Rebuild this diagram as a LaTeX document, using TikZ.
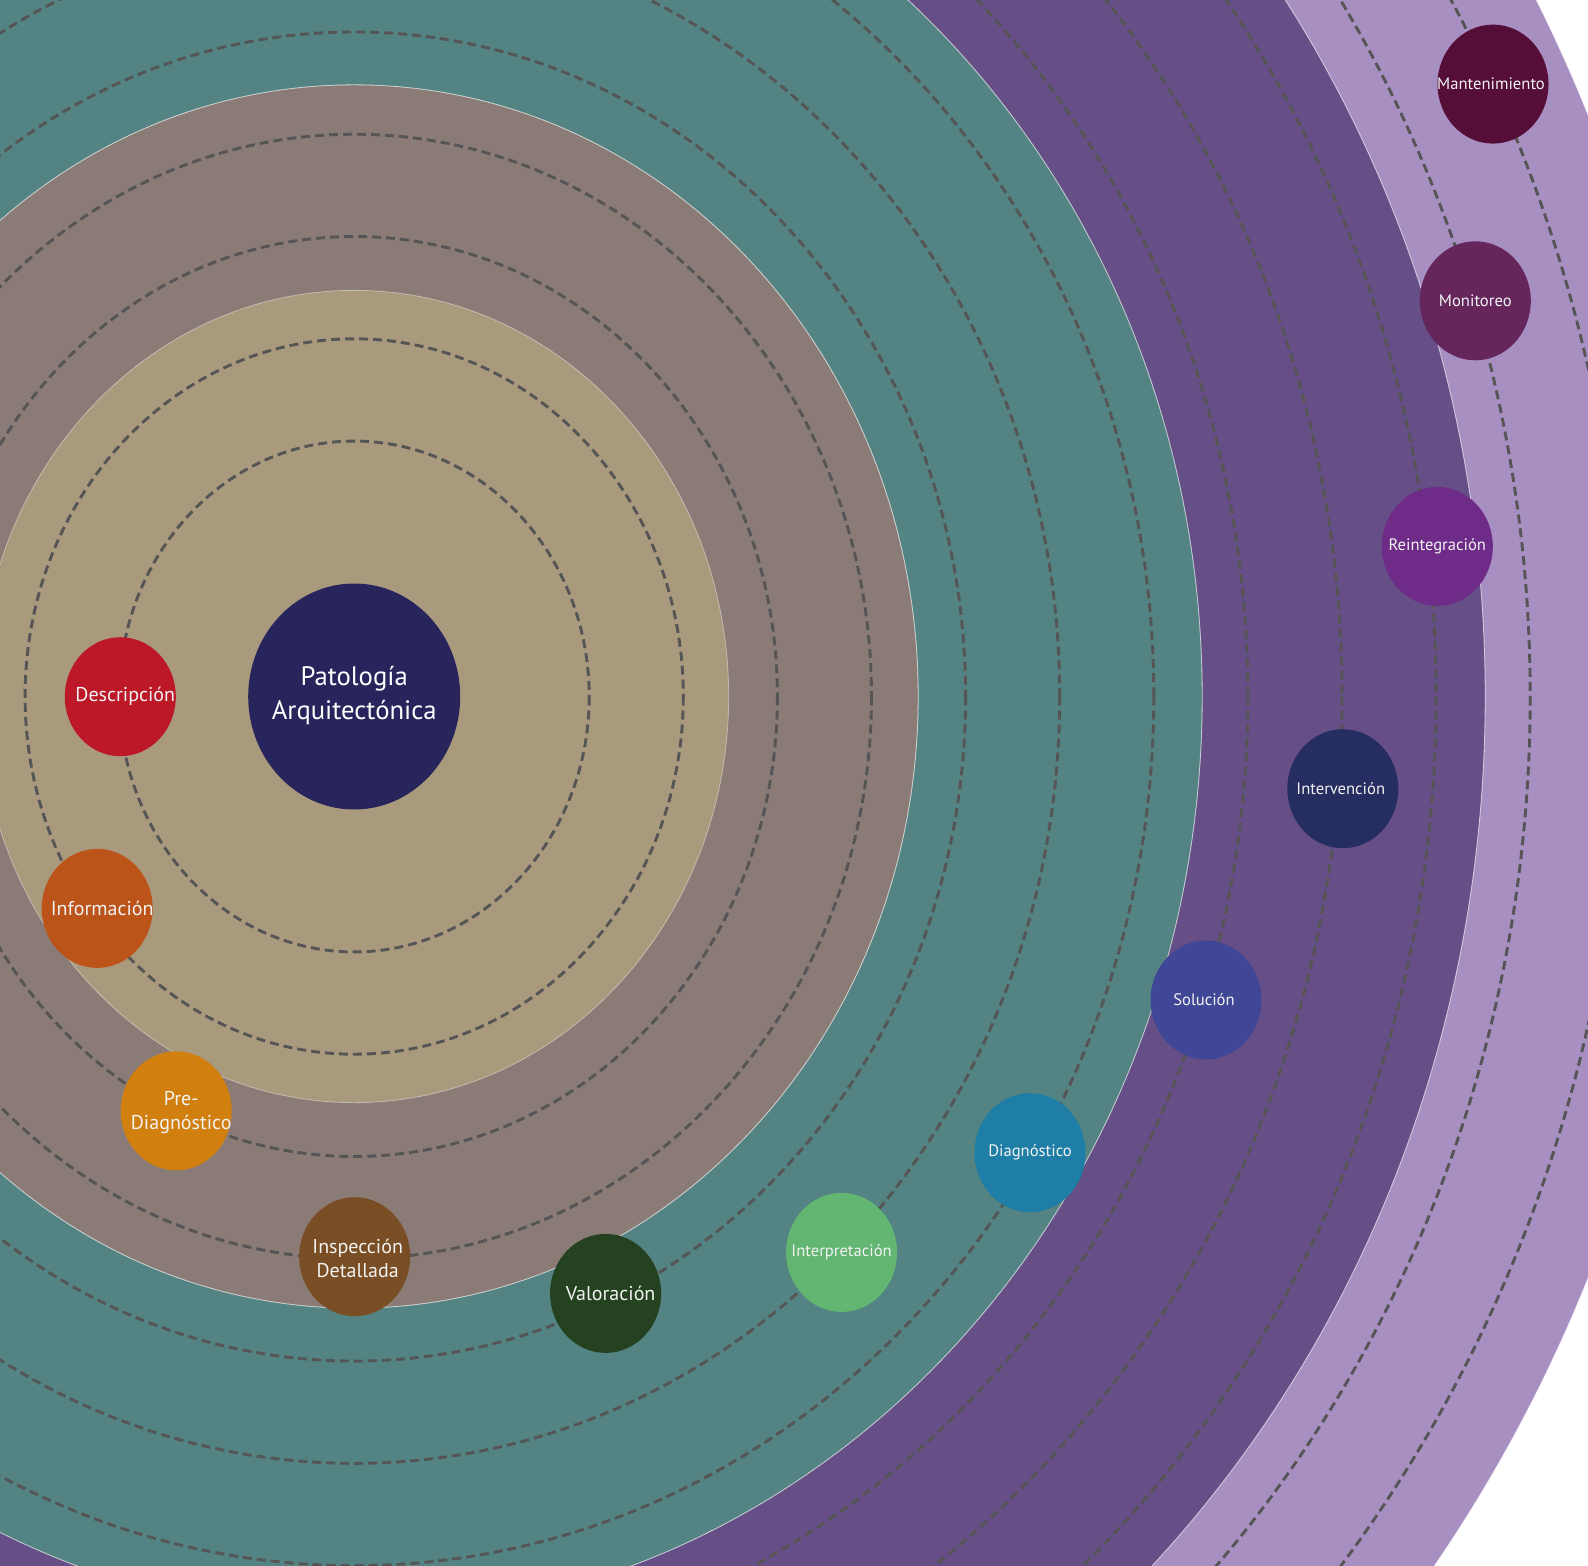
\documentclass[tikz,border=0pt]{standalone}
\usepackage{fontspec}
\setmainfont{PT Sans}
\usetikzlibrary{shapes.geometric}

% band colours
\definecolor{bandLilac}{HTML}{A88FC2}
\definecolor{bandPurple}{HTML}{664E86}
\definecolor{bandTeal}{HTML}{538382}
\definecolor{bandTaupe}{HTML}{8A7B76}
\definecolor{bandSand}{HTML}{AA9A7D}
\definecolor{ringGray}{HTML}{555555}
\definecolor{labelWhite}{HTML}{F2F2F2}
% stage colours
\definecolor{cCore}{HTML}{28245C}
\definecolor{cDesc}{HTML}{BC1828}
\definecolor{cInfo}{HTML}{BC541A}
\definecolor{cPre}{HTML}{D18010}
\definecolor{cInsp}{HTML}{7A4E24}
\definecolor{cVal}{HTML}{244220}
\definecolor{cInterp}{HTML}{62B672}
\definecolor{cDiag}{HTML}{1E7EA6}
\definecolor{cSol}{HTML}{404796}
\definecolor{cInterv}{HTML}{262D60}
\definecolor{cReint}{HTML}{6E2C88}
\definecolor{cMonit}{HTML}{65265C}
\definecolor{cMant}{HTML}{540E38}

\begin{document}
\begin{tikzpicture}[x=1pt,y=-1pt,
  band/.style={fill=#1, draw=white, draw opacity=0.4, line width=0.8pt},
  orbit/.style={draw=ringGray, line width=2.9pt, dash pattern=on 9pt off 5pt},
  stage/.style={ellipse, fill=#1, minimum width=111pt, minimum height=119pt, inner sep=0pt},
  core/.style={ellipse, fill=cCore, minimum width=212pt, minimum height=226pt, inner sep=0pt},
  corelbl/.style={text=white, font=\fontsize{26.7}{34}\selectfont, align=center, inner sep=0pt},
  biglbl/.style={text=labelWhite, font=\fontsize{20}{24.3}\selectfont, align=center, inner sep=0pt},
  smalllbl/.style={text=labelWhite, font=\fontsize{16.6}{20}\selectfont, align=center, inner sep=0pt}]

\useasboundingbox (0,0) rectangle (1588,1566);
\clip (0,0) rectangle (1588,1566);
\fill[white] (0,0) rectangle (1588,1566);

\coordinate (O) at (354.2,696.5);

% concentric bands, outermost first
\fill[band=bandLilac]  (O) ellipse [x radius=1345, y radius=1345/0.922];
\fill[band=bandPurple] (O) ellipse [x radius=1131, y radius=1131/0.922];
\fill[band=bandTeal]   (O) ellipse [x radius=848,  y radius=848/0.922];
\fill[band=bandTaupe]  (O) ellipse [x radius=564,  y radius=564/0.922];
\fill[band=bandSand]   (O) ellipse [x radius=374.5, y radius=374.5/0.922];
\draw[band=bandLilac, fill=none]  (O) ellipse [x radius=1345, y radius=1345/0.922];
\draw[band=bandPurple, fill=none] (O) ellipse [x radius=1131, y radius=1131/0.922];
\draw[band=bandTeal, fill=none]   (O) ellipse [x radius=848,  y radius=848/0.922];
\draw[band=bandTaupe, fill=none]  (O) ellipse [x radius=564,  y radius=564/0.922];

% dashed orbits
\foreach \k in {0,...,11}
  \draw[orbit] (O) ellipse [x radius={235+94.1*\k}, y radius={(235+94.1*\k)/0.92}];

% centre
\node[core] (core) at (O) {};
\node[corelbl] (core-t) at ([yshift=1pt]core.center) {Patología\\Arquitectónica};

% stages along the orbits
\node[stage=cDesc]   (desc)   at (120.3,696.7)  {};
\node[stage=cInfo]   (info)   at (97.2,908.4)   {};
\node[stage=cPre]    (pre)    at (176.2,1110.8) {};
\node[stage=cInsp]   (insp)   at (354.7,1256.7) {};
\node[stage=cVal]    (val)    at (605.6,1293.4) {};
\node[stage=cInterp] (interp) at (841.6,1252.4) {};
\node[stage=cDiag]   (diag)   at (1030,1152.7)  {};
\node[stage=cSol]    (sol)    at (1206,1000)    {};
\node[stage=cInterv] (interv) at (1342.8,788.7) {};
\node[stage=cReint]  (reint)  at (1437.3,546.4) {};
\node[stage=cMonit]  (monit)  at (1475.3,300.8) {};
\node[stage=cMant]   (mant)   at (1493,84.1)    {};

% stage labels
\node[biglbl] (desc-t) at ([xshift=5pt]desc.center) {Descripción};
\node[biglbl] (info-t) at ([xshift=5pt]info.center) {Información};
\node[biglbl] (pre-t)  at ([xshift=5pt,yshift=-2pt]pre.center) {Pre-\\Diagnóstico};
\node[biglbl] (insp-t) at ([xshift=3pt,yshift=-2pt]insp.center) {Inspección\\Detallada};
\node[biglbl] (val-t)  at ([xshift=5pt]val.center) {Valoración};
\node[smalllbl] (interp-t) at (interp.center) {Interpretación};
\node[smalllbl] (diag-t)   at (diag.center) {Diagnóstico};
\node[smalllbl] (sol-t)    at ([xshift=-2pt]sol.center) {Solución};
\node[smalllbl] (interv-t) at ([xshift=-2pt]interv.center) {Intervención};
\node[smalllbl] (reint-t)  at (reint.center) {Reintegración};
\node[smalllbl] (monit-t)  at (monit.center) {Monitoreo};
\node[smalllbl] (mant-t)   at ([xshift=-2pt]mant.center) {Mantenimiento};
\end{tikzpicture}
\end{document}
